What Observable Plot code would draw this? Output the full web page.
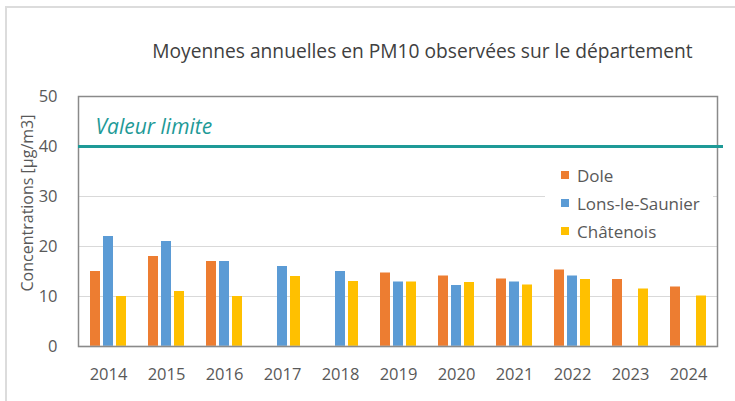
<!DOCTYPE html>
<html>
<head>
<meta charset="utf-8">
<script src="https://cdn.jsdelivr.net/npm/d3@7"></script>
<script src="https://cdn.jsdelivr.net/npm/@observablehq/plot@0.6"></script>
<style>
  html, body { margin: 0; padding: 0; background: #fff; }
  #wrap { position: relative; width: 735px; height: 401px; overflow: hidden; font-family: "Open Sans", sans-serif; }
  #outer { position: absolute; left: 5px; top: 6px; right: -10px; bottom: -10px; border-left: 2px solid #dcdcdc; border-top: 2px solid #dcdcdc; }
  #title { position: absolute; left: 0; width: 845px; top: 37px; text-align: center; font-size: 19.2px; color: #404040; white-space: nowrap; }
  #ylab { position: absolute; left: 27px; top: 203px; width: 0; height: 0; }
  #ylab span { position: absolute; transform: translate(-50%, -50%) rotate(-90deg); white-space: nowrap; font-size: 16px; color: #595959; }
  #legend { position: absolute; left: 545px; top: 158px; width: 168px; height: 86px; background: #fff; }
  .item { position: absolute; left: 16px; height: 20px; display: flex; align-items: center; font-size: 17px; color: #595959; white-space: nowrap; }
  .sw { width: 8px; height: 8px; margin-right: 8px; }
  svg { position: absolute; left: 0; top: 0; }
</style>
</head>
<body>
<div id="wrap">
  <div id="outer"></div>
</div>
<script>
const titleText = "Moyennes annuelles en PM10 observées sur le département";
const yLabel = "Concentrations [µg/m3]";
const years = ["2014","2015","2016","2017","2018","2019","2020","2021","2022","2023","2024"];
const series = ["Dole", "Lons-le-Saunier", "Châtenois"];
const colors = ["#ED7D31", "#5B9BD5", "#FFC000"];
const dole     = [15, 18, 17, null, null, 14.7, 14.1, 13.5, 15.3, 13.4, 11.9];
const lons     = [22, 21, 17, 16, 15, 12.9, 12.2, 12.9, 14.1, null, null];
const chatenois= [10, 11, 10, 14, 13, 12.9, 12.8, 12.3, 13.4, 11.5, 10.1];
const yTicks = [0, 10, 20, 30, 40, 50];
const gridValues = [10, 20, 30];
const limitValue = 40;
const limitLabel = "Valeur limite";

const valuesBySeries = [dole, lons, chatenois];
const rows = [];
series.forEach((s, i) => years.forEach((y, j) => {
  const v = valuesBySeries[i][j];
  if (v != null) rows.push({year: y, series: s, value: v, idx: i});
}));

const teal = "#1E9A97";
const barMarks = series.map((s, i) => Plot.barY(rows.filter(d => d.series === s), {
  x: "year", y: "value", fill: colors[i],
  insetLeft: 24, insetRight: 24, dx: (i - 1) * 13
}));

const chart = Plot.plot({
  width: 735, height: 401,
  marginLeft: 78, marginRight: 18, marginTop: 96, marginBottom: 55,
  style: {fontFamily: "Open Sans, sans-serif", fontSize: "16.5px", color: "#595959", background: "transparent", overflow: "visible"},
  x: {domain: years, padding: 0, tickSize: 0, tickPadding: 22, label: null},
  y: {domain: [0, 50], ticks: yTicks, tickSize: 0, tickPadding: 21, label: null},
  marks: [
    Plot.ruleY(gridValues, {stroke: "#d9d9d9", strokeWidth: 1}),
    ...barMarks,
    Plot.ruleY([0], {stroke: "#d9d9d9", strokeWidth: 1.5}),
    Plot.frame({stroke: "#8a8a8a", strokeWidth: 1.5, fill: "none"}),
    Plot.ruleY([limitValue], {stroke: teal, strokeWidth: 3, insetRight: -6}),
    Plot.text([limitLabel], {y: () => limitValue, text: d => d, frameAnchor: "left", textAnchor: "start", dx: 17, dy: -19, fill: teal, fontStyle: "italic", fontSize: 21})
  ]
});

const wrap = document.getElementById("wrap");
wrap.appendChild(chart);

const t = document.createElement("div");
t.id = "title"; t.textContent = titleText;
wrap.appendChild(t);

const yl = document.createElement("div");
yl.id = "ylab";
const ys = document.createElement("span");
ys.textContent = yLabel;
yl.appendChild(ys);
wrap.appendChild(yl);

const lg = document.createElement("div");
lg.id = "legend";
series.forEach((s, i) => {
  const it = document.createElement("div");
  it.className = "item";
  it.style.top = (7 + i * 28) + "px";
  const sw = document.createElement("span");
  sw.className = "sw"; sw.style.background = colors[i];
  it.appendChild(sw);
  it.appendChild(document.createTextNode(s));
  lg.appendChild(it);
});
wrap.appendChild(lg);
</script>
</body>
</html>
